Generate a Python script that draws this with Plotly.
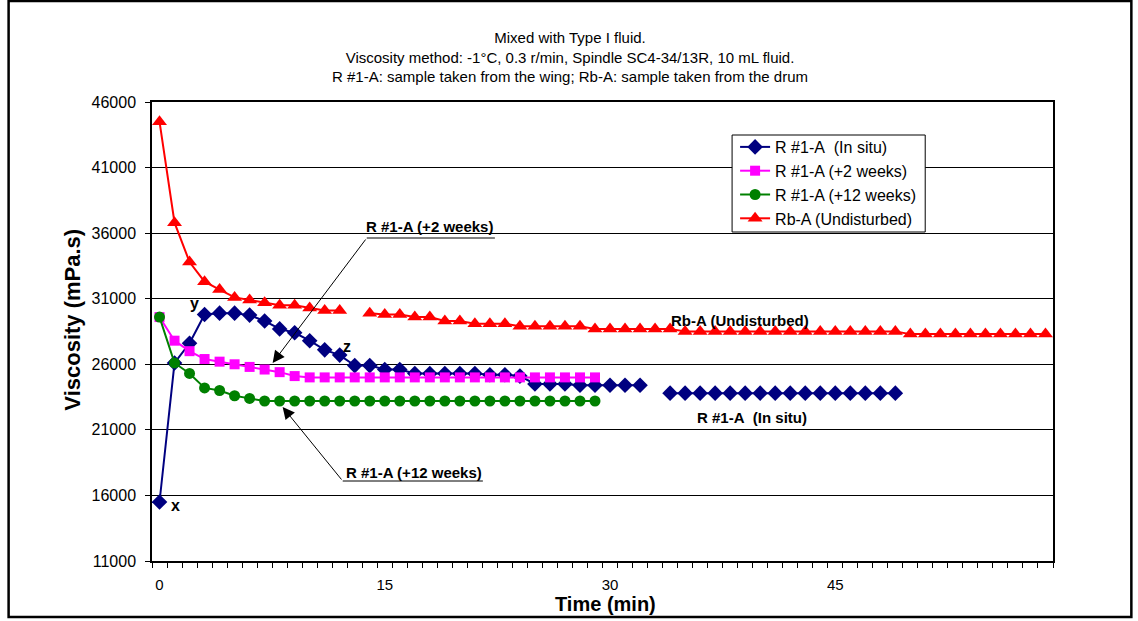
import plotly.graph_objects as go

# ---- data (time in minutes, viscosity in mPa.s) ----
time_min = list(range(60))

in_situ = [15500, 26100, 27600, 29800, 29900, 29900, 29750, 29300, 28700, 28400,
           27800, 27100, 26700, 25900, 25900, 25600, 25600, 25300, 25300, 25300,
           25300, 25300, 25200, 25200, 25100, 24500, 24500, 24500, 24400, 24400,
           24400, 24400, 24400, None, 23800, 23800, 23800, 23800, 23800, 23800,
           23800, 23800, 23800, 23800, 23800, 23800, 23800, 23800, 23800, 23800,
           None, None, None, None, None, None, None, None, None, None]

plus_2_weeks = [29600, 27800, 27000, 26400, 26200, 26000, 25800, 25600, 25400, 25100,
                25000, 25000, 25000, 25000, 25000, 25000, 25000, 25000, 25000, 25000,
                25000, 25000, 25000, 25000, 25000, 25000, 25000, 25000, 25000, 25000,
                None, None, None, None, None, None, None, None, None, None,
                None, None, None, None, None, None, None, None, None, None,
                None, None, None, None, None, None, None, None, None, None]

plus_12_weeks = [29600, 26100, 25300, 24200, 24000, 23600, 23400, 23200, 23200, 23200,
                 23200, 23200, 23200, 23200, 23200, 23200, 23200, 23200, 23200, 23200,
                 23200, 23200, 23200, 23200, 23200, 23200, 23200, 23200, 23200, 23200,
                 None, None, None, None, None, None, None, None, None, None,
                 None, None, None, None, None, None, None, None, None, None,
                 None, None, None, None, None, None, None, None, None, None]

undisturbed = [44500, 36800, 33800, 32300, 31700, 31100, 30900, 30700, 30500, 30500,
               30300, 30100, 30100, None, 29900, 29800, 29800, 29600, 29600, 29300,
               29300, 29100, 29100, 29100, 28900, 28900, 28900, 28900, 28900, 28700,
               28700, 28700, 28700, 28700, 28700, 28500, 28500, 28500, 28500, 28500,
               28500, 28500, 28500, 28500, 28500, 28500, 28500, 28500, 28500, 28500,
               28300, 28300, 28300, 28300, 28300, 28300, 28300, 28300, 28300, 28300]

series_names = ["R #1-A  (In situ)", "R #1-A (+2 weeks)", "R #1-A (+12 weeks)", "Rb-A (Undisturbed)"]
x_tick_vals = [0, 15, 30, 45]
y_tick_vals = [11000, 16000, 21000, 26000, 31000, 36000, 41000, 46000]

title_lines = ["Mixed with Type I fluid.",
               "Viscosity method: -1°C, 0.3 r/min, Spindle SC4-34/13R, 10 mL fluid.",
               "R #1-A: sample taken from the wing; Rb-A: sample taken from the drum"]

FONT = "Arial, Liberation Sans, sans-serif"

fig = go.Figure()
styles = [
    (in_situ, "#000080", "diamond", 12),
    (plus_2_weeks, "#FF00FF", "square", 10),
    (plus_12_weeks, "#008000", "circle", 11),
    (undisturbed, "#FF0000", "triangle-up", 13),
]
for (vals, col, sym, sz), name in zip(styles, series_names):
    fig.add_trace(go.Scatter(
        x=time_min, y=vals, name=name.replace("  ", "&nbsp; "), mode="lines+markers",
        line=dict(color=col, width=2),
        marker=dict(symbol=sym, size=sz, color=col, line=dict(width=0)),
        connectgaps=False,
    ))

PL, PT, PW, PH = 152.3, 102.0, 900.4, 459.0

def pxp(px):
    return (px - PL) / PW

def pyp(py):
    return (PT + PH - py) / PH

fig.update_layout(
    width=1138, height=621,
    margin=dict(l=152, r=85, t=102, b=60),
    paper_bgcolor="white", plot_bgcolor="white",
    font=dict(family=FONT, color="black"),
    showlegend=True,
    legend=dict(
        x=pxp(735), y=pyp(130), xanchor="left", yanchor="top",
        bgcolor="rgba(0,0,0,0)", borderwidth=0,
        font=dict(size=16, family=FONT, color="black"),
        tracegroupgap=0,
    ),
)

fig.update_xaxes(
    range=[-0.5, 59.5],
    tickmode="array", tickvals=x_tick_vals, ticktext=[str(v) for v in x_tick_vals],
    ticks="", ticklabelstandoff=9,
    tickfont=dict(size=15, family=FONT, color="black"),
    showgrid=False, zeroline=False,
    showline=True, linecolor="black", linewidth=1.5, mirror=True,
    minor=dict(ticks="outside", tickmode="linear", tick0=-0.5, dtick=1,
               ticklen=5, tickcolor="black", tickwidth=1, showgrid=False),
)
fig.update_yaxes(
    range=[11000, 46000],
    tickmode="array", tickvals=y_tick_vals, ticktext=[str(v) for v in y_tick_vals],
    ticks="outside", ticklen=5, tickcolor="black", ticklabelstandoff=6,
    tickfont=dict(size=16, family=FONT, color="black"),
    showgrid=True, gridcolor="black", gridwidth=1, zeroline=False,
    showline=True, linecolor="black", linewidth=1.5, mirror=True,
)

annotations = []
# chart title
annotations.append(dict(
    text="<br>".join(title_lines), xref="paper", yref="paper",
    x=pxp(570), y=pyp(57), xanchor="center", yanchor="middle",
    showarrow=False, font=dict(size=15, family=FONT, color="black"), align="center"))
# axis titles
annotations.append(dict(
    text="<b>Viscosity (mPa.s)</b>", xref="paper", yref="paper",
    x=pxp(72), y=pyp(320), textangle=-90,
    xanchor="center", yanchor="middle", showarrow=False,
    font=dict(size=22, family=FONT, color="black")))
annotations.append(dict(
    text="<b>Time (min)</b>", xref="paper", yref="paper",
    x=pxp(605), y=pyp(604),
    xanchor="center", yanchor="middle", showarrow=False,
    font=dict(size=20, family=FONT, color="black")))

def px2x(px):
    return (px - 160) / 15.0

def py2y(py):
    return 46000 - (py - 102) / 0.013114

# point letters
for txt, px, py in [("x", 176, 505), ("y", 195, 303), ("z", 347, 346)]:
    annotations.append(dict(text="<b>%s</b>" % txt, x=px2x(px), y=py2y(py),
                            showarrow=False, xanchor="center", yanchor="middle",
                            font=dict(size=16, family=FONT, color="black")))
# series labels
for txt, px, py in [("R #1-A (+2 weeks)", 430, 226), ("R #1-A (+12 weeks)", 414, 472),
                    ("Rb-A (Undisturbed)", 740, 320), ("R #1-A  (In situ)", 752, 417)]:
    annotations.append(dict(text="<b>%s</b>" % txt.replace("  ", "&nbsp; "),
                            x=px2x(px), y=py2y(py),
                            showarrow=False, xanchor="center", yanchor="middle",
                            font=dict(size=15, family=FONT, color="black")))
shapes = []
# callout arrows (corner -> tip)
for (cx, cy, ex, tx, ty) in [(367, 238, 495, 273, 363), (343, 481, 483, 283, 407)]:
    shapes.append(dict(type="line", xref="x", yref="y",
                       x0=px2x(cx), y0=py2y(cy), x1=px2x(ex), y1=py2y(cy),
                       line=dict(color="black", width=1)))
    annotations.append(dict(text="", x=px2x(tx), y=py2y(ty), ax=px2x(cx), ay=py2y(cy),
                            axref="x", ayref="y", showarrow=True, arrowhead=2,
                            arrowsize=2.4, arrowwidth=1, arrowcolor="black"))
# legend box
shapes.append(dict(type="rect", xref="paper", yref="paper", layer="above",
                   x0=pxp(732), x1=pxp(925), y0=pyp(232), y1=pyp(135),
                   line=dict(color="black", width=1), fillcolor="white"))
# outer chart frame
shapes.append(dict(type="rect", xref="paper", yref="paper",
                   x0=pxp(9), x1=pxp(1131), y0=pyp(617), y1=pyp(1),
                   line=dict(color="black", width=2.5), fillcolor="rgba(0,0,0,0)"))

fig.update_layout(annotations=annotations, shapes=shapes)
fig.write_html("out.html", config={"displayModeBar": False},
               post_script="document.body.style.margin='0px';")
